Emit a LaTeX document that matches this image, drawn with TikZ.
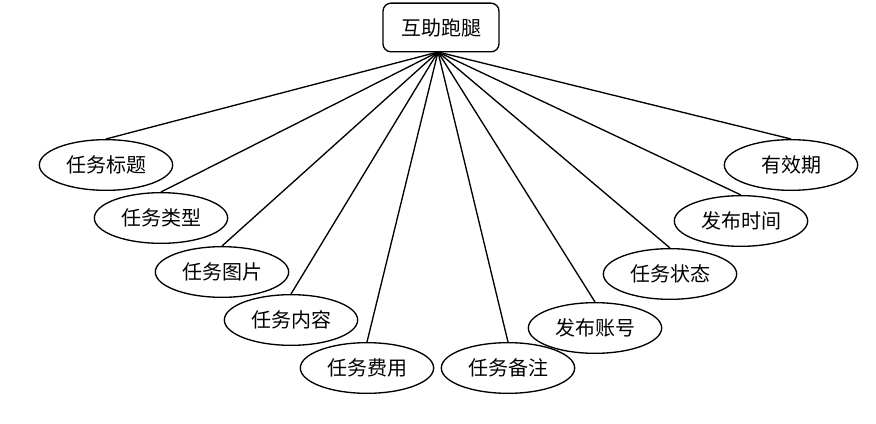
\documentclass[tikz,border=0pt]{standalone}
\usepackage{fontspec}
\newfontfamily\cjk{Noto Sans CJK SC}
\usetikzlibrary{
	positioning,
	shapes.geometric
}

\begin{document}
\begin{tikzpicture}[x=0.75pt,y=-0.75pt,font=\cjk\fontsize{15}{17}\selectfont,
		root/.style={draw,line width=1pt,rounded corners=6pt,minimum width=87pt,minimum height=36.5pt,inner sep=0pt},
		attr/.style={draw,line width=1pt,ellipse,minimum width=100pt,minimum height=38pt,inner sep=0pt}]
		
		\useasboundingbox (0,0) rectangle (876,424);
		
		% Top entity
		\node[root] (paotui) at (441,27.5) {互助跑腿};
		\coordinate (hub) at (438,52);
		
		% Attributes
		\node[attr] (biaoti) at (106,165) {任务标题};
		\node[attr] (leixing) at (161,218) {任务类型};
		\node[attr] (tupian) at (222,272) {任务图片};
		\node[attr] (neirong) at (291,320) {任务内容};
		\node[attr] (feiyong) at (367,368) {任务费用};
		\node[attr] (beizhu) at (508,368) {任务备注};
		\node[attr] (zhanghao) at (595,328) {发布账号};
		\node[attr] (zhuangtai) at (670,274) {任务状态};
		\node[attr] (shijian) at (741,221) {发布时间};
		\node[attr] (youxiao) at (791,165) {有效期};
		
		% Links
		\foreach \n in {biaoti,leixing,tupian,neirong,feiyong,beizhu,zhanghao,zhuangtai,shijian,youxiao}
		\draw[line width=1pt] (hub) -- (\n.north);
		
	\end{tikzpicture}
\end{document}
